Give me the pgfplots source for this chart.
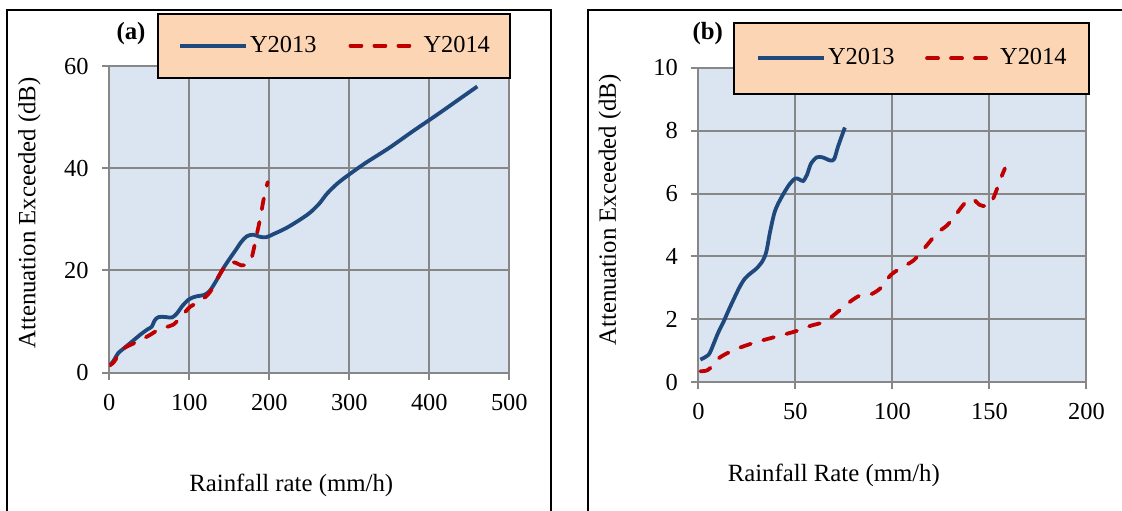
\documentclass[border=0pt]{standalone}
\usepackage{fontspec}
\setmainfont{Liberation Serif}
\usepackage{pgfplots}
\pgfplotsset{compat=1.18}
\definecolor{bgblue}{HTML}{DBE5F1}
\definecolor{gridgray}{HTML}{878787}
\definecolor{lineblue}{HTML}{1F497D}
\definecolor{linered}{HTML}{C00000}
\definecolor{legfill}{HTML}{FCD5B5}
\pgfplotsset{
  mystyle/.style={
    scale only axis,
    axis background/.style={fill=bgblue},
    axis line style={draw=gridgray, line width=1pt},
    grid=major,
    grid style={draw=gridgray, line width=1pt},
    major tick style={draw=gridgray, line width=1pt},
    tick align=outside,
    tick pos=left,
    major tick length=3.5pt,
    /pgf/number format/assume math mode=true,
    tick label style={font=\fontsize{12.2}{14}\selectfont},
    label style={font=\fontsize{12.4}{14}\selectfont},
    xticklabel style={yshift=-3.5pt},
    yticklabel style={xshift=-3.3pt},
    legend columns=2,
    legend cell align=left,
    legend style={draw=black, line width=1pt, fill=legfill,
      font=\fontsize{12.2}{14}\selectfont, cells={anchor=west},
      nodes={inner sep=0pt}, anchor=north west},
  },
  bluel/.style={color=lineblue, line width=1.9pt, smooth, no markers,
    legend image code/.code={\draw[##1] (0pt,0pt) -- (33pt,0pt); \path (34pt,0pt);}},
  redl/.style={color=linered, line width=1.9pt, smooth, no markers, line cap=round,
    dash pattern=on 5.5pt off 6.5pt,
    legend image code/.code={\draw[##1] (0.9pt,0pt) -- (31.6pt,0pt); \path (36.5pt,0pt);}},
}
\begin{document}
\begin{tikzpicture}
\path[use as bounding box] (0,0) rectangle (561pt,255pt);
\draw[line width=1pt] (3.65pt,-5pt) -- (3.65pt,250pt) -- (275.35pt,250pt) -- (275.35pt,-5pt);
\draw[line width=1pt] (294.15pt,-5pt) -- (294.15pt,250pt) -- (570pt,250pt);
% Panel (a)
\begin{axis}[mystyle,
  at={(54.65pt,68.65pt)}, anchor=south west,
  width=200pt, height=153.35pt,
  xmin=0, xmax=500, ymin=0, ymax=60,
  xtick={0,100,...,500}, ytick={0,20,40,60},
  xlabel={Rainfall rate (mm/h)},
  xlabel style={at={(axis description cs:0.455,-0.388)}, anchor=base},
  ylabel={Attenuation Exceeded (dB)},
  ylabel style={at={(axis description cs:-0.2,0.521)}, anchor=center},
  legend style={at={(axis description cs:0.12,1.174)}, inner xsep=10pt, inner ysep=11.2pt,
    /tikz/every even column/.append style={column sep=16pt}},
]
\addplot[bluel] coordinates {
(1,1.5) (6,2.5) (11,3.8) (20,5.0) (30,6.3) (40,7.6) (48,8.5) (53,9.0) (57,10.3)
(62,10.9) (70,10.9) (78,10.8) (84,11.5) (92,13.2) (100,14.4) (108,14.9) (118,15.2)
(125,15.9) (133,17.8) (142,20.3) (150,22.2) (158,24.0) (165,25.6) (172,26.7)
(180,27.0) (188,26.6) (196,26.5) (205,27.1) (220,28.2) (235,29.6) (250,31.2)
(262,33.0) (272,35.0) (285,37.0) (300,38.8) (320,41.0) (350,44.0) (380,47.3)
(410,50.5) (440,53.8) (460,56.0)
};
\addlegendentry{Y2013}
\addplot[redl] coordinates {
(0,1.4) (4,1.8) (8,2.6) (11,3.8) (15,4.5) (22,5.1) (30,5.7) (36,6.1) (44,6.8)
(51,7.4) (58,8.1) (66,8.7) (75,9.1) (80,9.4) (88,10.6) (95,11.9) (101,12.9)
(108,13.5) (114,14.0) (120,14.8) (126,15.8) (134,18.1) (142,20.2) (150,21.6)
(158,21.5) (165,21.0) (172,21.2) (177,22.0) (181,24.5) (185,27.5) (189,30.5)
(193,34.0) (198,37.3)
};
\addlegendentry{Y2014}
\end{axis}
\node[font=\bfseries\fontsize{12.4}{14}\selectfont] at (65.5pt,238.35pt) {(a)};
% Panel (b)
\begin{axis}[mystyle,
  at={(349.2pt,63.85pt)}, anchor=south west,
  width=194pt, height=157.3pt,
  xmin=0, xmax=200, ymin=0, ymax=10,
  xtick={0,50,...,200}, ytick={0,2,...,10},
  xlabel={Rainfall Rate (mm/h)},
  xlabel style={at={(axis description cs:0.349,-0.316)}, anchor=base},
  ylabel={Attenuation Exceeded (dB)},
  ylabel style={at={(axis description cs:-0.228,0.548)}, anchor=center},
  legend style={at={(axis description cs:0.09,1.146)}, inner xsep=11pt, inner ysep=13pt,
    /tikz/every even column/.append style={column sep=15.3pt}},
]
\addplot[bluel] coordinates {
(1,0.72) (4,0.82) (6,0.95) (10,1.55) (13,1.93) (16,2.35) (21,3.0) (24,3.3)
(27,3.47) (30,3.62) (33,3.85) (35,4.15) (37,4.8) (39.5,5.45) (43,5.9) (47,6.3)
(50,6.48) (52,6.45) (54,6.4) (56,6.6) (58,6.95) (61,7.15) (64,7.15) (68,7.05)
(70,7.1) (72,7.5) (75.5,8.1)
};
\addlegendentry{Y2013}
\addplot[redl] coordinates {
(1,0.35) (4,0.37) (6,0.45) (8,0.62) (12,0.83) (20,1.07) (30,1.28) (40,1.45)
(50,1.62) (58,1.8) (64,1.9) (68,2.05) (73,2.3) (79,2.6) (84,2.78) (89,2.8)
(94,3.0) (99,3.4) (104,3.62) (111,3.88) (117,4.3) (123,4.74) (128,4.98)
(132,5.27) (136,5.6) (139.5,5.82) (142,5.8) (145,5.64) (148,5.6) (150.5,5.66)
(153,6.0) (156,6.5) (158,6.8)
};
\addlegendentry{Y2014}
\end{axis}
\node[font=\bfseries\fontsize{12.4}{14}\selectfont] at (353.85pt,238.35pt) {(b)};
\end{tikzpicture}
\end{document}
